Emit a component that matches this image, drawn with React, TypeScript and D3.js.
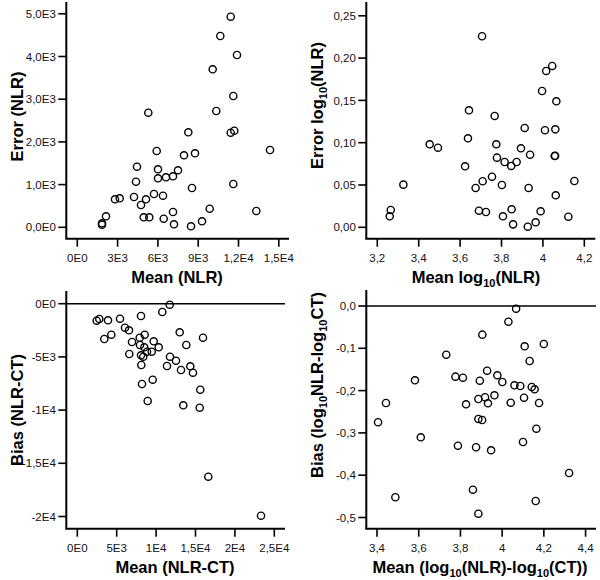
import React from "react";
import * as d3 from "d3";

// ---------- Panel 1: Error (NLR) vs Mean (NLR) ----------
const p1Mean = [11419, 10645, 11888, 10079, 11613, 10347, 5285, 8263, 11419, 11687, 5911, 7943, 8762, 14345, 4444, 6007, 6603, 7124, 7496, 6007, 4370, 11613, 8538, 5710, 6380, 4221, 2806, 3156, 5114, 4742, 9856, 13325, 7124, 4943, 5360, 6432, 9283, 7199, 8464, 2136, 1839, 1839];
const p1Error = [4932, 4480, 4035, 3700, 3075, 2724, 2684, 2225, 2215, 2262, 1787, 1686, 1733, 1810, 1419, 1358, 1171, 1194, 1335, 1148, 1068, 1014, 920, 780, 740, 710, 656, 679, 656, 522, 436, 382, 358, 234, 234, 201, 141, 70, 23, 258, 94, 61];
const p1XTicks = [0, 3000, 6000, 9000, 12000, 15000];
const p1XLabels = ["0E0", "3E3", "6E3", "9E3", "1,2E4", "1,5E4"];
const p1YTicks = [0, 1000, 2000, 3000, 4000, 5000];
const p1YLabels = ["0,0E0", "1,0E3", "2,0E3", "3,0E3", "4,0E3", "5,0E3"];

// ---------- Panel 2: Error log10(NLR) vs Mean log10(NLR) ----------
const p2Mean = [3.706, 4.045, 4.016, 3.996, 4.065, 3.643, 3.767, 3.912, 4.010, 4.060, 3.638, 3.453, 3.493, 3.775, 3.894, 3.938, 4.057, 4.059, 3.778, 3.815, 3.873, 3.847, 3.624, 3.326, 3.709, 3.754, 3.675, 3.802, 3.931, 4.152, 4.062, 3.265, 3.260, 3.691, 3.725, 3.849, 3.989, 3.807, 4.123, 3.965, 3.856, 3.927];
const p2Error = [0.2258, 0.1907, 0.1848, 0.1611, 0.1489, 0.1383, 0.1316, 0.1174, 0.1147, 0.1158, 0.1052, 0.0981, 0.0941, 0.0981, 0.0934, 0.0858, 0.0843, 0.0845, 0.0823, 0.0772, 0.0772, 0.0725, 0.0721, 0.0504, 0.0544, 0.0598, 0.0465, 0.0500, 0.0465, 0.0547, 0.0378, 0.0205, 0.0130, 0.0196, 0.0181, 0.0213, 0.0189, 0.0130, 0.0125, 0.0059, 0.0035, 0.0007];
const p2XTicks = [3.2, 3.4, 3.6, 3.8, 4.0, 4.2];
const p2XLabels = ["3,2", "3,4", "3,6", "3,8", "4", "4,2"];
const p2YTicks = [0, 0.05, 0.1, 0.15, 0.2, 0.25];
const p2YLabels = ["0,00", "0,05", "0,10", "0,15", "0,20", "0,25"];

// ---------- Panel 3: Bias (NLR-CT) vs Mean (NLR-CT) ----------
const p3Mean = [11726, 10787, 8084, 2462, 2792, 3896, 5419, 6053, 6561, 12995, 8553, 4315, 3426, 15952, 7919, 6942, 9695, 13832, 7957, 8503, 10330, 9442, 8845, 6599, 8084, 8376, 11764, 12525, 8122, 11383, 14340, 13160, 14683, 9569, 8211, 15609, 8934, 13452, 15533, 16624, 23312];
const p3Bias = [-94, -780, -1156, -1598, -1438, -1560, -1410, -2256, -2500, -2688, -2914, -2914, -3318, -3195, -3195, -3600, -3534, -3882, -3882, -4098, -4098, -4511, -4511, -4727, -4850, -4981, -4981, -5357, -5761, -5855, -5883, -6231, -6485, -7143, -7547, -8083, -9145, -9549, -9774, -16259, -19925];
const p3XTicks = [0, 5000, 10000, 15000, 20000, 25000];
const p3XLabels = ["0E0", "5E3", "1E4", "1,5E4", "2E4", "2,5E4"];
const p3YTicks = [0, -5000, -10000, -15000, -20000];
const p3YLabels = ["0E0", "-5E3", "-1E4", "-1,5E4", "-2E4"];

// ---------- Panel 4: Bias (log10NLR-log10CT) ----------
const p4Mean = [4.067, 4.030, 3.905, 4.108, 4.200, 3.732, 4.132, 3.928, 3.582, 3.776, 3.812, 3.893, 3.977, 4.001, 4.059, 4.087, 4.142, 4.156, 3.963, 3.918, 3.886, 4.105, 3.443, 3.827, 3.932, 4.041, 4.177, 3.886, 3.904, 3.405, 4.164, 3.610, 3.788, 3.875, 3.947, 4.100, 4.321, 3.860, 3.488, 4.161, 3.886];
const p4Bias = [-0.0064, -0.0371, -0.0678, -0.0953, -0.0898, -0.1151, -0.1300, -0.1530, -0.1757, -0.1671, -0.1695, -0.1766, -0.1638, -0.1797, -0.1875, -0.1891, -0.1915, -0.1969, -0.2111, -0.2158, -0.2199, -0.2168, -0.2293, -0.2324, -0.2300, -0.2286, -0.2293, -0.2671, -0.2695, -0.2749, -0.2901, -0.3104, -0.3303, -0.3340, -0.3411, -0.3215, -0.3948, -0.4343, -0.4522, -0.4610, -0.4910];
const p4XTicks = [3.4, 3.6, 3.8, 4.0, 4.2, 4.4];
const p4XLabels = ["3,4", "3,6", "3,8", "4", "4,2", "4,4"];
const p4YTicks = [0, -0.1, -0.2, -0.3, -0.4, -0.5];
const p4YLabels = ["0,0", "-0,1", "-0,2", "-0,3", "-0,4", "-0,5"];

const FONT = "'Liberation Sans', Arial, Helvetica, sans-serif";

type TitlePart = { t: string; sub?: boolean };

function Title({ parts, x, y, rotate }: { parts: TitlePart[]; x: number; y: number; rotate?: boolean }) {
  let prevSub = false;
  const spans = parts.map((p, i) => {
    let dy = 0;
    if (p.sub && !prevSub) dy = 4;
    if (!p.sub && prevSub) dy = -4;
    prevSub = !!p.sub;
    return (
      <tspan key={i} dy={dy} fontSize={p.sub ? 11 : 16.5}>
        {p.t}
      </tspan>
    );
  });
  return (
    <text
      transform={rotate ? `translate(${x},${y}) rotate(-90)` : `translate(${x},${y})`}
      textAnchor="middle"
      fontFamily={FONT}
      fontWeight="bold"
      fontSize={16.5}
      fill="#000"
    >
      {spans}
    </text>
  );
}

type PanelProps = {
  left: number; right: number; top: number; bottom: number;
  xDomain: [number, number]; yDomain: [number, number];
  xs: number[]; ys: number[];
  xTicks: number[]; xLabels: string[]; yTicks: number[]; yLabels: string[];
  zeroLine?: boolean;
  xTitle: TitlePart[]; xTitleX: number;
  yTitle: TitlePart[]; yTitleX: number; yTitleY: number;
};

function Panel(p: PanelProps) {
  const x = d3.scaleLinear().domain(p.xDomain).range([p.left, p.right]);
  const y = d3.scaleLinear().domain(p.yDomain).range([p.bottom, p.top]);
  const tickLen = 8;
  return (
    <g>
      {p.zeroLine && (
        <line x1={p.left} x2={p.right} y1={y(0)} y2={y(0)} stroke="#000" strokeWidth={1.6} />
      )}
      {/* y axis */}
      <line x1={p.left} x2={p.left} y1={p.top} y2={p.bottom} stroke="#000" strokeWidth={2} />
      {p.yTicks.map((t, i) => (
        <g key={"yt" + i}>
          <line x1={p.left - tickLen} x2={p.left} y1={y(t)} y2={y(t)} stroke="#000" strokeWidth={1.6} />
          <text
            x={p.left - tickLen - 2.5}
            y={y(t)}
            dy="0.36em"
            textAnchor="end"
            fontFamily={FONT}
            fontSize={11.5}
            fill="#111"
          >
            {p.yLabels[i]}
          </text>
        </g>
      ))}
      {/* x axis */}
      <line x1={p.left - 1} x2={p.right} y1={p.bottom} y2={p.bottom} stroke="#000" strokeWidth={2} />
      {p.xTicks.map((t, i) => (
        <g key={"xt" + i}>
          <line x1={x(t)} x2={x(t)} y1={p.bottom} y2={p.bottom + tickLen} stroke="#000" strokeWidth={1.6} />
          <text
            x={x(t)}
            y={p.bottom + 23.5}
            textAnchor="middle"
            fontFamily={FONT}
            fontSize={11.5}
            fill="#111"
          >
            {p.xLabels[i]}
          </text>
        </g>
      ))}
      {p.xs.map((v, i) => (
        <circle key={"pt" + i} cx={x(v)} cy={y(p.ys[i])} r={3.6} fill="none" stroke="#000" strokeWidth={1.4} />
      ))}
      <Title parts={p.xTitle} x={p.xTitleX} y={p.bottom + 44.5} />
      <Title parts={p.yTitle} x={p.yTitleX} y={p.yTitleY} rotate />
    </g>
  );
}

export default function App() {
  return (
    <svg
      width={600}
      height={580}
      viewBox="0 0 600 580"
      style={{ position: "absolute", left: 0, top: 0, background: "#fff" }}
    >
      <rect width={600} height={580} fill="#fff" />
      <Panel
        left={66.3} right={289} top={2} bottom={238.7}
        xDomain={[-819, 15759]} yDomain={[-267, 5276]}
        xs={p1Mean} ys={p1Error}
        xTicks={p1XTicks} xLabels={p1XLabels} yTicks={p1YTicks} yLabels={p1YLabels}
        xTitle={[{ t: "Mean (NLR)" }]} xTitleX={177}
        yTitle={[{ t: "Error (NLR)" }]} yTitleX={22.5} yTitleY={116.5}
      />
      <Panel
        left={366.3} right={595.3} top={2} bottom={238.7}
        xDomain={[3.1469, 4.2531]} yDomain={[-0.01348, 0.2663]}
        xs={p2Mean} ys={p2Error}
        xTicks={p2XTicks} xLabels={p2XLabels} yTicks={p2YTicks} yLabels={p2YLabels}
        xTitle={[{ t: "Mean log" }, { t: "10", sub: true }, { t: "(NLR)" }]} xTitleX={476}
        yTitle={[{ t: "Error log" }, { t: "10", sub: true }, { t: "(NLR)" }]} yTitleX={322.5} yTitleY={105.5}
      />
      <Panel
        left={66.3} right={285} top={291} bottom={528.7}
        xDomain={[-1396, 26358]} yDomain={[-21147, 1194]}
        xs={p3Mean} ys={p3Bias}
        xTicks={p3XTicks} xLabels={p3XLabels} yTicks={p3YTicks} yLabels={p3YLabels}
        zeroLine
        xTitle={[{ t: "Mean (NLR-CT)" }]} xTitleX={175}
        yTitle={[{ t: "Bias (NLR-CT)" }]} yTitleX={22.5} yTitleY={410}
      />
      <Panel
        left={366.3} right={596} top={290} bottom={528.7}
        xDomain={[3.3487, 4.45]} yDomain={[-0.5265, 0.0378]}
        xs={p4Mean} ys={p4Bias}
        xTicks={p4XTicks} xLabels={p4XLabels} yTicks={p4YTicks} yLabels={p4YLabels}
        zeroLine
        xTitle={[{ t: "Mean (log" }, { t: "10", sub: true }, { t: "(NLR)-log" }, { t: "10", sub: true }, { t: "(CT))" }]}
        xTitleX={480}
        yTitle={[{ t: "Bias (log" }, { t: "10", sub: true }, { t: "NLR-log" }, { t: "10", sub: true }, { t: "CT)" }]}
        yTitleX={323} yTitleY={385}
      />
    </svg>
  );
}
